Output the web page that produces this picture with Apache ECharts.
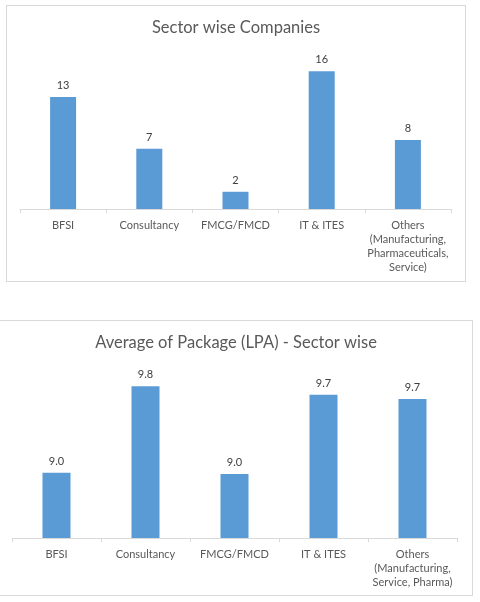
<!DOCTYPE html>
<html>
<head>
<meta charset="utf-8">
<script src="https://cdn.jsdelivr.net/npm/echarts@6/dist/echarts.min.js"></script>
<style>
  html, body { margin: 0; padding: 0; background: #fff; width: 480px; height: 602px; overflow: hidden; }
  .box { position: absolute; border: 1px solid #d9d9d9; box-sizing: border-box; background: #fff; }
  #top { left: 6px; top: 5px; width: 460px; height: 277px; }
  #bottom { left: -1px; top: 320px; width: 474px; height: 276px; }
</style>
</head>
<body>
<div id="top" class="box"></div>
<div id="bottom" class="box"></div>
<script>
const companySectors = ["BFSI", "Consultancy", "FMCG/FMCD", "IT & ITES", "Others\n(Manufacturing,\nPharmaceuticals,\nService)"];
const companyCounts = [13, 7, 2, 16, 8];

const packageSectors = ["BFSI", "Consultancy", "FMCG/FMCD", "IT & ITES", "Others\n(Manufacturing,\nService, Pharma)"];
const packageAvg = [9.01, 9.82, 9.0, 9.74, 9.7];

const barColor = "#5b9bd5";
const textColor = "#595959";
const fontFamily = "Lato, 'Open Sans', sans-serif";

function makeOption(title, cats, vals, grid, yMin, yMax, barWidth, fmt) {
  return {
    animation: false,
    title: {
      text: title,
      left: "center",
      top: grid.titleTop,
      textStyle: { color: textColor, fontSize: 16.5, fontWeight: "normal", fontFamily: fontFamily }
    },
    grid: { left: grid.left, right: grid.right, top: grid.top, bottom: grid.bottom },
    xAxis: {
      type: "category",
      data: cats,
      axisLine: { lineStyle: { color: "#d9d9d9" } },
      axisTick: { show: true, length: 4, lineStyle: { color: "#d9d9d9" } },
      axisLabel: {
        interval: 0,
        margin: 9,
        color: textColor,
        fontSize: 11,
        lineHeight: 14,
        fontFamily: fontFamily
      }
    },
    yAxis: { type: "value", min: yMin, max: yMax, show: false, splitLine: { show: false } },
    series: [
      {
        type: "bar",
        data: vals,
        barWidth: barWidth,
        itemStyle: { color: barColor },
        label: {
          show: true,
          position: "top",
          distance: 6,
          color: "#404040",
          fontSize: 11,
          fontFamily: fontFamily,
          formatter: p => fmt(p.value)
        }
      }
    ]
  };
}

const chartTop = echarts.init(document.getElementById("top"));
chartTop.setOption(makeOption(
  "Sector wise Companies", companySectors, companyCounts,
  { left: 13, right: 14, top: 48, bottom: 72, titleTop: 8 },
  0, 18, 26, v => String(v)
));

const chartBottom = echarts.init(document.getElementById("bottom"));
chartBottom.setOption(makeOption(
  "Average of Package (LPA) - Sector wise", packageSectors, packageAvg,
  { left: 12, right: 15, top: 46, bottom: 57, titleTop: 8 },
  8.4, 10, 28, v => v.toFixed(1)
));
</script>
</body>
</html>
